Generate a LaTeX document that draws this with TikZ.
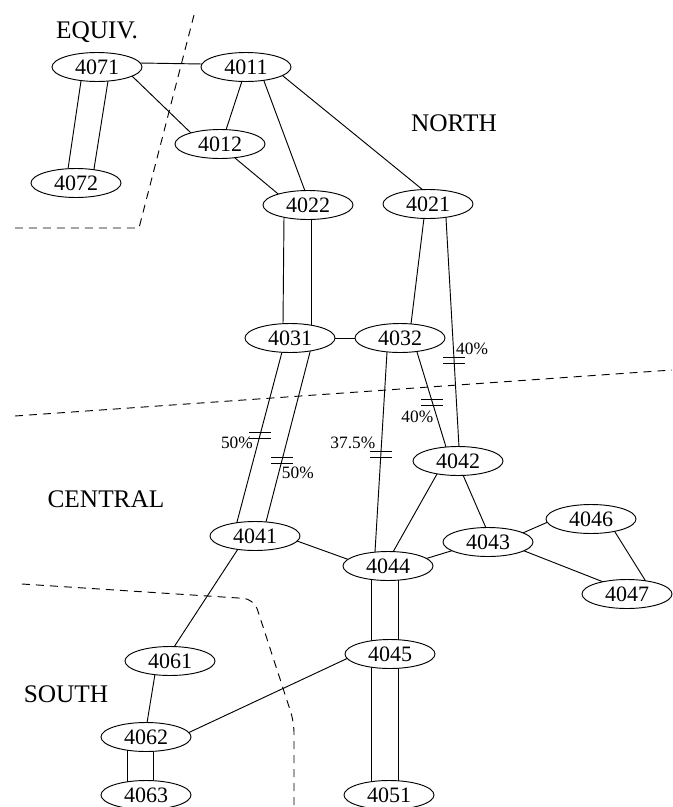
\documentclass[tikz,border=0pt]{standalone}
\usepackage{fontspec}
\setmainfont{Liberation Serif}
\usetikzlibrary{calc,shapes.geometric,backgrounds}

\begin{document}
\begin{tikzpicture}[x=0.75pt,y=-0.75pt,
  station/.style={ellipse,draw,fill=white,line width=0.7pt,
    minimum width=67.5pt,minimum height=21.75pt,inner sep=0pt,
    font=\fontsize{16.5}{16.5}\selectfont},
  link/.style={line width=0.7pt,shorten <=-4pt,shorten >=-4pt},
  zone/.style={line width=0.7pt,dash pattern=on 6pt off 4.5pt},
  zonelabel/.style={anchor=base,inner sep=0pt,font=\fontsize{19}{19}\selectfont},
  pct/.style={anchor=base,inner sep=0pt,font=\fontsize{13}{13}\selectfont},
  brk/.pic={\draw[line width=0.7pt] (-11,-3) -- (11,-3) (-11,3) -- (11,3);}
]
\useasboundingbox (0,0) rectangle (672,807);

% zone boundaries
\draw[zone] (194,15) -- (139,228) -- (15,228);
\draw[zone] (15,416) -- (672,370);
\draw[zone,rounded corners=8pt] (22,584) -- (254,599) -- (294,722) -- (294,812);

% zone names
\node[zonelabel] (zequiv) at (97,38) {EQUIV.};
\node[zonelabel] (znorth) at (454,131) {NORTH};
\node[zonelabel] (zcentral) at (106,507) {CENTRAL};
\node[zonelabel] (zsouth) at (66,702) {SOUTH};

% stations
\node[station] (4071) at (97,67) {4071};
\node[station] (4011) at (246,67) {4011};
\node[station] (4012) at (220,144) {4012};
\node[station] (4072) at (76,183) {4072};
\node[station] (4022) at (308,205) {4022};
\node[station] (4021) at (428,204) {4021};
\node[station] (4031) at (290,338) {4031};
\node[station] (4032) at (400,338) {4032};
\node[station] (4042) at (458,461) {4042};
\node[station] (4041) at (255,536) {4041};
\node[station] (4044) at (388,566) {4044};
\node[station] (4043) at (488,542) {4043};
\node[station] (4046) at (591,519) {4046};
\node[station] (4047) at (627,594) {4047};
\node[station] (4045) at (390,654) {4045};
\node[station] (4051) at (389,795) {4051};
\node[station] (4061) at (170,661) {4061};
\node[station] (4062) at (146,737) {4062};
\node[station] (4063) at (146,795) {4063};

% connections
\begin{scope}[on background layer]
\draw[link] ($(4071)+(43,-4)$) -- ($(4011)+(-44,-3)$);
\draw[link] ($(4071)+(36,10)$) -- ($(4012)+(-29,-11)$);
\draw[link] ($(4071)+(-16,14)$) -- ($(4072)+(-8,-14)$);
\draw[link] ($(4071)+(11,14)$) -- ($(4072)+(18,-14)$);
\draw[link] ($(4011)+(-4,14)$) -- ($(4012)+(6,-14)$);
\draw[link] ($(4011)+(18,14)$) -- ($(4022)+(-3,-14)$);
\draw[link] ($(4011)+(37,9)$) -- ($(4021)+(-5,-14)$);
\draw[link] ($(4012)+(15,14)$) -- ($(4022)+(-31,-12)$);
\draw[link] ($(4022)+(-24,12)$) -- ($(4031)+(-7,-14)$);
\draw[link] ($(4022)+(3,14)$) -- ($(4031)+(21,-14)$);
\draw[link] ($(4021)+(-4,14)$) -- ($(4032)+(11,-14)$);
\draw[link] ($(4021)+(18,14)$) -- coordinate[pos=0.62] (m1) ($(4042)+(1,-14)$);
\draw[link] (4031) -- (4032);
\draw[link] ($(4031)+(-8,14)$) -- coordinate[pos=0.49] (m3) ($(4041)+(-18,-14)$);
\draw[link] ($(4031)+(20,14)$) -- coordinate[pos=0.64] (m4) ($(4041)+(11,-14)$);
\draw[link] ($(4032)+(-13,14)$) -- coordinate[pos=0.51] (m5) ($(4044)+(-13,-14)$);
\draw[link] ($(4032)+(17,14)$) -- coordinate[pos=0.53] (m2) ($(4042)+(-12,-14)$);
\draw[link] ($(4042)+(-21,13)$) -- ($(4044)+(5,-14)$);
\draw[link] ($(4042)+(5,14)$) -- ($(4043)+(-2,-14)$);
\draw[link] ($(4041)+(42,5)$) -- ($(4044)+(-41,-7)$);
\draw[link] ($(4044)+(40,-8)$) -- ($(4043)+(-37,9)$);
\draw[link] ($(4043)+(37,-10)$) -- ($(4046)+(-43,3)$);
\draw[link] ($(4043)+(39,10)$) -- ($(4047)+(-21,-11)$);
\draw[link] ($(4046)+(24,13)$) -- ($(4047)+(18,-14)$);
\draw[link] ($(4044)+(-17,14)$) -- ($(4045)+(-19,-14)$);
\draw[link] ($(4044)+(10,14)$) -- ($(4045)+(8,-14)$);
\draw[link] ($(4045)+(-19,14)$) -- ($(4051)+(-18,-14)$);
\draw[link] ($(4045)+(8,14)$) -- ($(4051)+(9,-14)$);
\draw[link] ($(4041)+(-17,13)$) -- ($(4061)+(4,-14)$);
\draw[link] ($(4061)+(-15,13)$) -- ($(4062)+(1,-14)$);
\draw[link] ($(4062)+(44,-5)$) -- ($(4045)+(-44,5)$);
\draw[link] ($(4062)+(-19,14)$) -- ($(4063)+(-19,-14)$);
\draw[link] ($(4062)+(7,14)$) -- ($(4063)+(7,-14)$);
\end{scope}

% partial-share marks and their figures
\pic at (m1) {brk};
\pic at (m2) {brk};
\pic at (m3) {brk};
\pic at (m4) {brk};
\pic at (m5) {brk};
\node[pct] (p1) at ($(m1)+(18,-5)$) {40\%};
\node[pct] (p2) at ($(m2)+(-15,20)$) {40\%};
\node[pct] (p3) at ($(m3)+(-23,13)$) {50\%};
\node[pct] (p4) at ($(m4)+(16,18)$) {50\%};
\node[pct] (p5) at ($(m5)+(-28,-6)$) {37.5\%};
\end{tikzpicture}
\end{document}
